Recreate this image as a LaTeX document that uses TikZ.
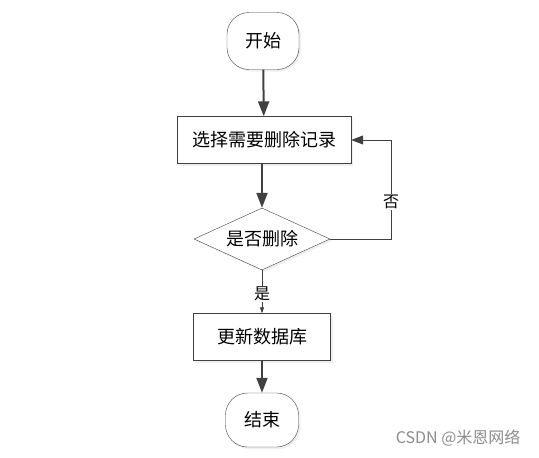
\documentclass[tikz,border=0pt]{standalone}
\usepackage{fontspec}
\setmainfont{Noto Sans CJK SC}
\usetikzlibrary{shapes.geometric,arrows.meta,shadows}
\definecolor{linegray}{HTML}{404040}
\tikzset{
  startstop/.style={draw=linegray, rounded corners=22pt, minimum width=72pt, minimum height=57pt,
    fill=white, drop shadow={shadow xshift=2pt, shadow yshift=-2pt, fill=black!12}, font=\fontsize{18}{20}\selectfont},
  procbox/.style={draw=linegray, minimum height=47pt, fill=white,
    drop shadow={shadow xshift=2pt, shadow yshift=-2pt, fill=black!12}, font=\fontsize{18}{20}\selectfont},
  decision/.style={diamond, draw=linegray, minimum width=136pt, minimum height=62pt, inner sep=0pt,
    shape aspect=2.4, fill=white, drop shadow={shadow xshift=2pt, shadow yshift=-2pt, fill=black!12},
    font=\fontsize{18}{20}\selectfont},
  bigarrow/.style={draw=linegray, line width=2pt, -{Triangle[length=15pt,width=11pt]}},
  thinline/.style={draw=linegray, line width=0.8pt},
  lbl/.style={fill=white, inner sep=1pt, font=\fontsize{16}{18}\selectfont}
}
\begin{document}
\begin{tikzpicture}[x=1pt, y=-1pt]
    \useasboundingbox (0,0) rectangle (539,458);
    % Nodos
    \node[startstop] (inicio) at (263,41) {开始};
    \node[procbox, minimum width=174pt] (elegir) at (264,140) {选择需要删除记录};
    \node[decision] (borrar) at (262,239) {是否删除};
    \node[procbox, minimum width=137pt] (actualizar) at (262,337) {更新数据库};
    \node[startstop, minimum width=73pt, minimum height=54pt] (fin) at (262,420) {结束};

    % Flechas principales
    \draw[bigarrow] (inicio) -- (elegir);
    \draw[bigarrow] (elegir.south -| borrar.north) -- (borrar);
    \draw[thinline, -{Triangle[length=6pt,width=4pt]}] (borrar) -- node[lbl, pos=0.55] {是} (actualizar);
    \draw[bigarrow] (actualizar) -- (fin);

    % Retorno
    \coordinate (esquina) at (391,239);
    \draw[thinline, -{Triangle[length=12pt,width=9pt]}] (borrar.east) -- (esquina)
        -- node[lbl, pos=0.37] {否} (esquina |- elegir.east) -- (elegir.east);

    % Marca
    \node[text=black!45, font=\fontsize{16}{18}\selectfont, anchor=east] (marca) at (524,438) {CSDN @米恩网络};
\end{tikzpicture}
\end{document}
